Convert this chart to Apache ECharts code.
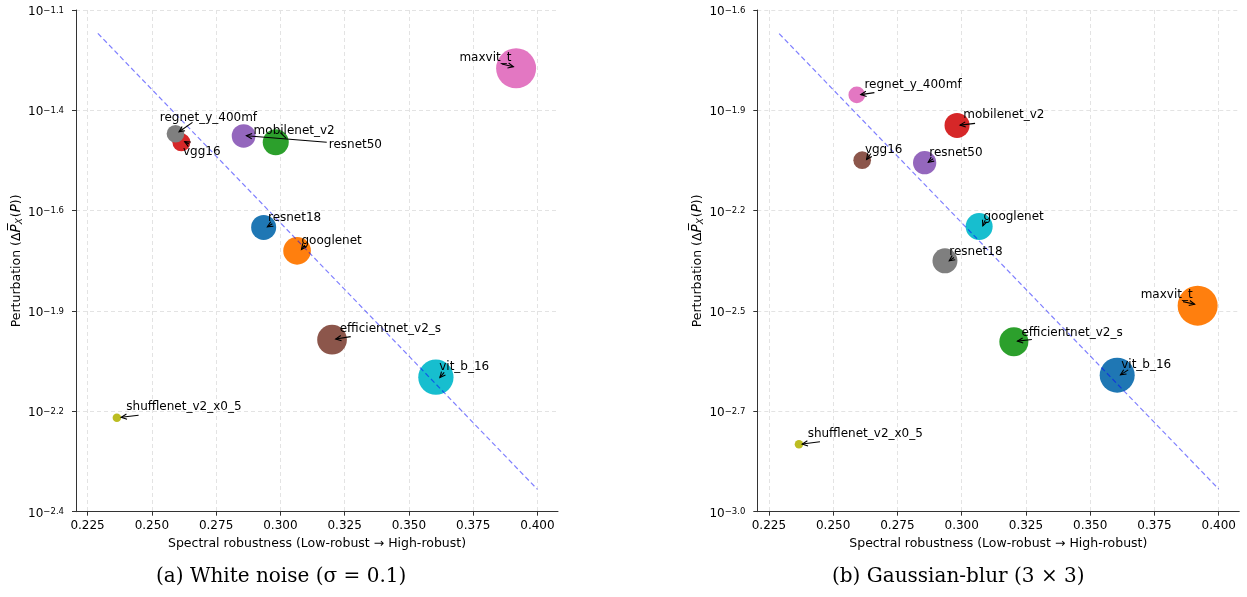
<!DOCTYPE html>
<html><head><meta charset="utf-8">
<script src="https://cdn.jsdelivr.net/npm/echarts@6/dist/echarts.min.js"></script>
<style>html,body{margin:0;padding:0;background:#fff}#c{width:1247px;height:597px}</style>
</head><body><div id="c"></div><script>
// ---------- DATA ----------
// (a) White noise: models in plotting order
const modelsA = ['resnet18','googlenet','resnet50','vgg16','mobilenet_v2','efficientnet_v2_s','maxvit_t','regnet_y_400mf','shufflenet_v2_x0_5','vit_b_16'];
const robustA = [0.2935,0.3065,0.2982,0.2615,0.2857,0.3201,0.3917,0.2592,0.2364,0.3605];
const logPertA = [-1.675,-1.738,-1.446,-1.446,-1.429,-1.977,-1.247,-1.423,-2.187,-2.078];
const bubbleA = [25,27.7,26,18,23.7,29.7,40,17.7,8.5,35.3];
// (b) Gaussian blur
const modelsB = ['vit_b_16','maxvit_t','efficientnet_v2_s','mobilenet_v2','resnet50','vgg16','regnet_y_400mf','resnet18','shufflenet_v2_x0_5','googlenet'];
const robustB = [0.3605,0.3918,0.3203,0.2982,0.2856,0.2613,0.2592,0.2935,0.2367,0.3068];
const logPertB = [-2.639,-2.445,-2.546,-1.942,-2.046,-2.039,-1.857,-2.320,-2.832,-2.224];
const bubbleB = [35,40,29,25,23.3,17.7,16.7,25,8.5,27];
// trend lines
const trendX = [0.229, 0.400];
const trendA = [-1.153, -2.380];
const trendB = [-1.686, -2.957];
// ticks
const xTicks = [0.225,0.250,0.275,0.300,0.325,0.350,0.375,0.400];
const yTicksA = [-2.44,-2.17,-1.90,-1.63,-1.36,-1.09];
const yTickLabelsA = ['−2.4','−2.2','−1.9','−1.6','−1.4','−1.1'];
const yTicksB = [-3.02,-2.74,-2.46,-2.18,-1.90,-1.62];
const yTickLabelsB = ['−3.0','−2.7','−2.5','−2.2','−1.9','−1.6'];
const titles = ['(a) White noise (σ = 0.1)', '(b) Gaussian-blur (3 × 3)'];

// ---------- LAYOUT / STYLE ----------
const tab10 = ['#1f77b4','#ff7f0e','#2ca02c','#d62728','#9467bd','#8c564b','#e377c2','#7f7f7f','#bcbd22','#17becf'];
// annotation offsets in px relative to point centre: text (left, middle), arrow tail, arrow tip
const annA = {
  resnet18:{t:[4.3,-10],a:[8.7,-3.6],b:[3.7,-0.6]},
  googlenet:{t:[4.4,-10],a:[7.7,-5.7],b:[4.4,-1.4]},
  resnet50:{t:[53,3],a:[51,0],b:[-29.3,-6.6]},
  vgg16:{t:[1.6,9.6],a:[7.6,1.7],b:[3.3,-0.6]},
  mobilenet_v2:{t:[10,-5],seg:[[36.7,-3.3],[42.7,2.3]]},
  efficientnet_v2_s:{t:[7.7,-10.4],a:[18.7,-3],b:[3.7,-0.7]},
  maxvit_t:{t:[-56.7,-10.6],a:[-14.3,-4.3],b:[-2.7,-1.6]},
  regnet_y_400mf:{t:[-15.7,-15.4],a:[17,-11.4],b:[3.6,-2]},
  shufflenet_v2_x0_5:{t:[9.4,-10.4],a:[21.7,-2.4],b:[4.4,-0.4]},
  vit_b_16:{t:[3.3,-10.3],a:[8.3,-4.7],b:[4,0.3]}
};
const annB = {
  regnet_y_400mf:{t:[7.6,-10],a:[17.6,-2.3],b:[4,-0.3]},
  mobilenet_v2:{t:[6.3,-10.3],a:[18,-2],b:[3,-0.3]},
  vgg16:{t:[2.7,-10],a:[8.7,-6.7],b:[4.4,-0.7]},
  resnet50:{t:[4.6,-9.4],a:[8.6,-4],b:[3.6,-0.4]},
  googlenet:{t:[4.3,-9.6],a:[6,-6.3],b:[3.7,-0.6]},
  resnet18:{t:[4.3,-9],a:[9,-3.4],b:[4.3,0]},
  maxvit_t:{t:[-57,-11],a:[-14.6,-4],b:[-3,-1.4]},
  efficientnet_v2_s:{t:[7.6,-9.4],a:[18,-2.4],b:[3.6,-0.7]},
  vit_b_16:{t:[4,-10.6],a:[11,-5.3],b:[3.3,-0.3]},
  shufflenet_v2_x0_5:{t:[8.7,-10.3],a:[21,-2.6],b:[3.3,-0.3]}
};
const FONT = 'DejaVu Sans';
const AXC = '#333';
const grids = [
  {left:76, top:10, width:482, height:501.7},
  {left:757.3, top:10, width:482, height:501.7}
];

function xAxisCfg(gi){
  return {
    type:'value', gridIndex:gi, min:0.2205, max:0.408,
    name:'Spectral robustness (Low-robust → High-robust)', nameLocation:'middle', nameGap:26,
    nameTextStyle:{fontFamily:FONT, fontSize:12.5, color:'#000'},
    axisLine:{show:true, lineStyle:{color:AXC, width:1}},
    axisTick:{show:true, customValues:xTicks, length:4, lineStyle:{color:AXC}},
    axisLabel:{customValues:xTicks, formatter:v=>v.toFixed(3), fontFamily:FONT, fontSize:12, color:'#000', margin:8},
    splitLine:{show:true, lineStyle:{color:'#e3e3e3', type:[4,3], width:1}}
  };
}
function yAxisCfg(gi, ticks, labels, min, max){
  return {
    type:'value', gridIndex:gi, min:min, max:max,
    name:'{n|Perturbation (Δ}{m|P̅}{s|X}{n|(}{m|P}{n|))}', nameLocation:'middle', nameGap:52, nameRotate:90,
    nameTextStyle:{rich:{
      n:{fontFamily:FONT, fontSize:12.5, color:'#000'},
      m:{fontFamily:FONT, fontSize:13.5, fontStyle:'italic', color:'#000'},
      s:{fontFamily:FONT, fontSize:9, fontStyle:'italic', color:'#000', verticalAlign:'bottom', padding:[6,1,0,0]}
    }},
    axisLine:{show:true, lineStyle:{color:AXC, width:1}},
    axisTick:{show:true, customValues:ticks, length:4, lineStyle:{color:AXC}},
    axisLabel:{customValues:ticks, margin:12, padding:[4,0,0,0],
      formatter:v=>{ let k=0, best=1e9; ticks.forEach((t,i)=>{const d=Math.abs(t-v); if(d<best){best=d;k=i;}}); return '{b|10}{e|'+labels[k]+'}'; },
      rich:{
        b:{fontFamily:FONT, fontSize:12, color:'#000', lineHeight:12, verticalAlign:'bottom'},
        e:{fontFamily:FONT, fontSize:8.5, color:'#000', lineHeight:9, verticalAlign:'top', padding:[0,0,8,0]}
      }},
    splitLine:{show:true, lineStyle:{color:'#e3e3e3', type:[4,3], width:1}}
  };
}

function scatterSeries(gi, robust, logp, sizes, models){
  return {
    type:'scatter', xAxisIndex:gi, yAxisIndex:gi, z:2, silent:true,
    data: robust.map((x,i)=>({value:[x,logp[i]], symbolSize:sizes[i], itemStyle:{color:tab10[i], opacity:1}})),
    symbol:'circle'
  };
}
function trendSeries(gi, ys){
  return {
    type:'line', xAxisIndex:gi, yAxisIndex:gi, z:3, silent:true, showSymbol:false,
    data: trendX.map((x,i)=>[x, ys[i]]),
    lineStyle:{color:'rgba(0,0,255,0.5)', width:1.2, type:[5,3]}
  };
}
function arrowShapes(p, tail, tip){
  const x1=p[0]+tail[0], y1=p[1]+tail[1], x2=p[0]+tip[0], y2=p[1]+tip[1];
  const dx=x2-x1, dy=y2-y1, L=Math.hypot(dx,dy)||1, ux=dx/L, uy=dy/L, nx=-uy, ny=ux;
  const hl=5.5, hw=2.6;
  return [
    {type:'line', shape:{x1:x1,y1:y1,x2:x2,y2:y2}, style:{stroke:'#000', lineWidth:1.1}},
    {type:'polyline', shape:{points:[[x2-ux*hl+nx*hw, y2-uy*hl+ny*hw],[x2,y2],[x2-ux*hl-nx*hw, y2-uy*hl-ny*hw]]}, style:{stroke:'#000', fill:null, lineWidth:1.1}}
  ];
}
function annSeries(gi, robust, logp, models, ann){
  return {
    type:'custom', xAxisIndex:gi, yAxisIndex:gi, z:5, silent:true, clip:false,
    data: robust.map((x,i)=>[x, logp[i], i]),
    encode:{x:0, y:1},
    renderItem:(params, api)=>{
      const i = api.value(2);
      const name = models[i];
      const o = ann[name];
      const p = api.coord([api.value(0), api.value(1)]);
      const ch = [{type:'text', x:p[0]+o.t[0], y:p[1]+o.t[1], style:{text:name, fill:'#000', font:'12px "DejaVu Sans"', align:'left', verticalAlign:'middle'}}];
      if (o.a) ch.push(...arrowShapes(p, o.a, o.b));
      if (o.seg) ch.push({type:'line', shape:{x1:p[0]+o.seg[0][0], y1:p[1]+o.seg[0][1], x2:p[0]+o.seg[1][0], y2:p[1]+o.seg[1][1]}, style:{stroke:'#000', lineWidth:1.1}});
      return {type:'group', children:ch};
    }
  };
}

const chart = echarts.init(document.getElementById('c'), null, {renderer:'canvas'});
chart.setOption({
  animation:false,
  backgroundColor:'#fff',
  grid: grids,
  xAxis:[xAxisCfg(0), xAxisCfg(1)],
  yAxis:[yAxisCfg(0, yTicksA, yTickLabelsA, yTicksA[0], yTicksA[5]), yAxisCfg(1, yTicksB, yTickLabelsB, yTicksB[0], yTicksB[5])],
  series:[
    scatterSeries(0, robustA, logPertA, bubbleA, modelsA),
    trendSeries(0, trendA),
    annSeries(0, robustA, logPertA, modelsA, annA),
    scatterSeries(1, robustB, logPertB, bubbleB, modelsB),
    trendSeries(1, trendB),
    annSeries(1, robustB, logPertB, modelsB, annB)
  ],
  graphic:[
    {type:'text', left:282-126, top:567, style:{text:titles[0], font:'20px "DejaVu Serif"', fill:'#000'}},
    {type:'text', left:961-129, top:567, style:{text:titles[1], font:'20px "DejaVu Serif"', fill:'#000'}}
  ]
});
</script></body></html>
